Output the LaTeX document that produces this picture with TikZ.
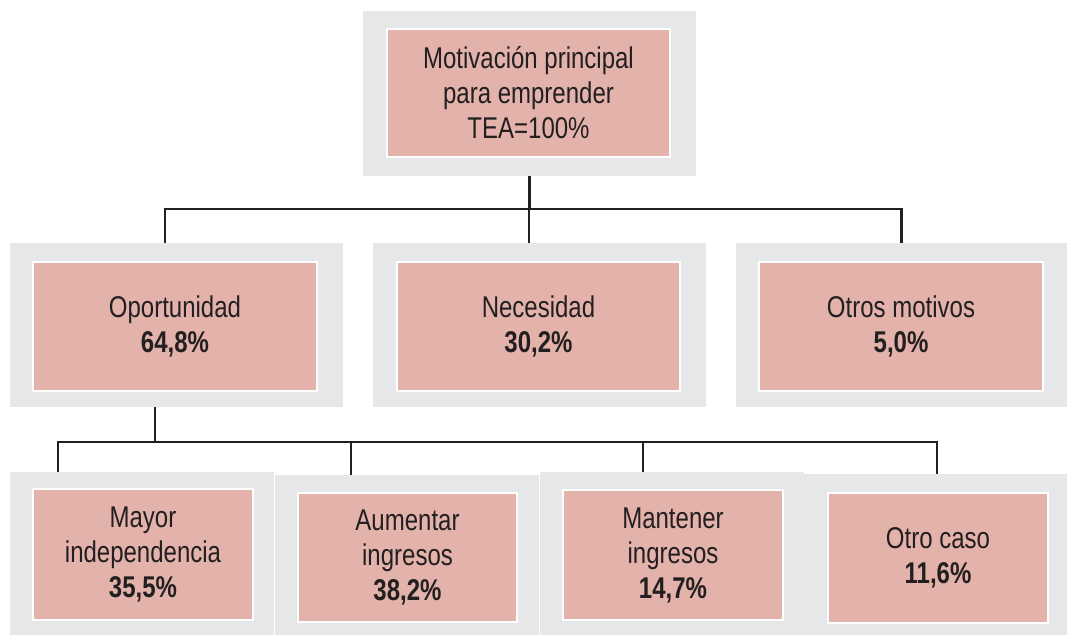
\documentclass[tikz,border=0pt]{standalone}
\usepackage{fontspec}
\setmainfont{Liberation Sans}[FakeStretch=0.8]
\usepackage{color}
\definecolor{grisfondo}{rgb}{0.902,0.906,0.910}
\definecolor{rosa}{rgb}{0.886,0.698,0.671}
\definecolor{tinta}{rgb}{0.137,0.122,0.125}

\begin{document}
\begin{tikzpicture}[x=1pt,y=-1pt,
  fondo/.style={fill=grisfondo, inner sep=0pt},
  caja/.style={fill=rosa, draw=white, line width=2pt, inner sep=0pt, align=center,
    text=tinta, font=\fontsize{30}{35}\selectfont},
  linea/.style={draw=tinta, line width=2.5pt}]
\useasboundingbox (0,0) rectangle (1067,635);
%\fill[red!20] (0,0) rectangle (1067,635);
% fila de arriba
\node[fondo, minimum width=333pt, minimum height=165pt] (motivo) at (529.5,93.5) {};
\node[caja, minimum width=283pt, minimum height=128pt] (motivo-t) at (528.5,93) {Motivación principal\\para emprender\\TEA=100\%};
% fila del medio
\node[fondo, minimum width=333pt, minimum height=164pt] (oportunidad) at (176.5,325) {};
\node[fondo, minimum width=333pt, minimum height=164pt] (necesidad) at (539.5,325) {};
\node[fondo, minimum width=331pt, minimum height=164pt] (otros) at (901.5,325) {};
\node[caja, minimum width=284pt, minimum height=129pt] (oportunidad-t) at (175,326.5) {Oportunidad\\\textbf{64,8\%}};
\node[caja, minimum width=283pt, minimum height=129pt] (necesidad-t) at (538.5,326.5) {Necesidad\\\textbf{30,2\%}};
\node[caja, minimum width=284pt, minimum height=129pt] (otros-t) at (901,326.5) {Otros motivos\\\textbf{5,0\%}};
% fila de abajo
\node[fondo, minimum width=264pt, minimum height=163pt] (mayor) at (142,553.5) {};
\node[fondo, minimum width=264pt, minimum height=160pt] (aumentar) at (407,555) {};
\node[fondo, minimum width=264pt, minimum height=163pt] (mantener) at (672,553.5) {};
\node[fondo, minimum width=263pt, minimum height=161pt] (otrocaso) at (935.5,554.5) {};
\node[caja, minimum width=220pt, minimum height=131pt] (mayor-t) at (143,554.5) {Mayor\\independencia\\\textbf{35,5\%}};
\node[caja, minimum width=219pt, minimum height=129pt] (aumentar-t) at (407.5,557.5) {Aumentar\\ingresos\\\textbf{38,2\%}};
\node[caja, minimum width=220pt, minimum height=130pt] (mantener-t) at (673,555) {Mantener\\ingresos\\\textbf{14,7\%}};
\node[caja, minimum width=220pt, minimum height=130pt] (otrocaso-t) at (938,558) {Otro caso\\\textbf{11,6\%}};
% lineas
\draw[linea] (motivo.south) -- ++(0,33);
\draw[linea] ([xshift=-11.5pt]oportunidad.north) -- ++(0,-34) -| (otros.north);
\draw[linea] ([xshift=-10.5pt]necesidad.north) -- ++(0,-34);
\draw[linea] ([xshift=-21.5pt]oportunidad.south) -- ++(0,35);
\draw[linea] ([xshift=-84pt]mayor.north) -- ++(0,-30) -| ([xshift=1.5pt]otrocaso.north);
\foreach \n/\s/\h in {aumentar/-56/33, mantener/-29/30}
  \draw[linea] ([xshift=\s pt]\n.north) -- ++(0,-\h);
\end{tikzpicture}
\end{document}
